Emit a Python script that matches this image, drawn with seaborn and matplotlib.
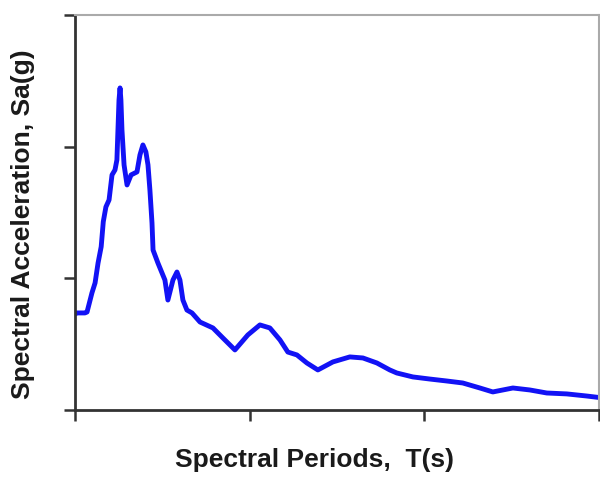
import numpy as np
import pandas as pd
import matplotlib
matplotlib.use("Agg")
import matplotlib.pyplot as plt
import seaborn as sns

# spectral response curve (T in s, Sa in g)
period = [0.000, 0.011, 0.057, 0.069, 0.097, 0.115, 0.132, 0.150, 0.162, 0.177,
          0.195, 0.212, 0.229, 0.240, 0.246, 0.252, 0.258, 0.263, 0.269, 0.281,
          0.298, 0.321, 0.355, 0.372, 0.389, 0.406, 0.418, 0.429, 0.441, 0.447,
          0.475, 0.515, 0.532, 0.561, 0.584, 0.601, 0.618, 0.641, 0.670, 0.716,
          0.790, 0.847, 0.916, 0.990, 1.059, 1.116, 1.174, 1.219, 1.271, 1.328,
          1.391, 1.477, 1.574, 1.649, 1.729, 1.803, 1.843, 1.935, 2.032, 2.130,
          2.221, 2.319, 2.393, 2.508, 2.605, 2.702, 2.817, 2.931, 3.000]
sa = [0.729, 0.737, 0.737, 0.744, 0.889, 0.965, 1.116, 1.240, 1.430, 1.542,
      1.595, 1.785, 1.823, 1.899, 2.127, 2.354, 2.446, 2.354, 2.127, 1.861,
      1.709, 1.785, 1.808, 1.937, 2.013, 1.960, 1.861, 1.671, 1.420, 1.215,
      1.116, 0.987, 0.835, 0.987, 1.048, 0.987, 0.835, 0.759, 0.737, 0.668,
      0.623, 0.547, 0.456, 0.570, 0.646, 0.623, 0.532, 0.440, 0.418, 0.357,
      0.304, 0.365, 0.403, 0.395, 0.357, 0.304, 0.281, 0.251, 0.235, 0.220,
      0.205, 0.167, 0.137, 0.167, 0.152, 0.129, 0.122, 0.106, 0.095]
x_ticks = [0, 1, 2, 3]
y_ticks = [0, 1, 2, 3]

sns.set_theme(style="white")
plt.rcParams['font.family'] = ['Liberation Sans', 'DejaVu Sans']

df = pd.DataFrame({"T": period, "Sa": sa})

fig = plt.figure(figsize=(6, 4.78), dpi=100)
ax = fig.add_axes([0.125, 0.1423, 0.873, 0.8264])

sns.lineplot(data=df, x="T", y="Sa", ax=ax, color="#1212f5", linewidth=3.5,
             solid_joinstyle="round", solid_capstyle="round")

ax.set_xlim(0, 3)
ax.set_ylim(0, 3)
ax.set_xticks(x_ticks)
ax.set_yticks(y_ticks)
ax.set_xticklabels([])
ax.set_yticklabels([])
ax.tick_params(axis="both", direction="out", length=8, width=1.8, color="#333333",
               bottom=True, left=True)

for side in ["left", "bottom"]:
    ax.spines[side].set_color("#333333")
    ax.spines[side].set_linewidth(2)
for side in ["top", "right"]:
    ax.spines[side].set_color("#aaaaaa")
    ax.spines[side].set_linewidth(1.5)

ax.set_xlabel("Spectral Periods,  T(s)", fontsize=19, fontweight="bold", color="#1a1a1a")
ax.set_ylabel("Spectral Acceleration, Sa(g)", fontsize=19, fontweight="bold", color="#1a1a1a")
ax.xaxis.set_label_coords(0.458, -0.095)
ax.yaxis.set_label_coords(-0.077, 0.47)

fig.savefig("out.png", dpi=100)
